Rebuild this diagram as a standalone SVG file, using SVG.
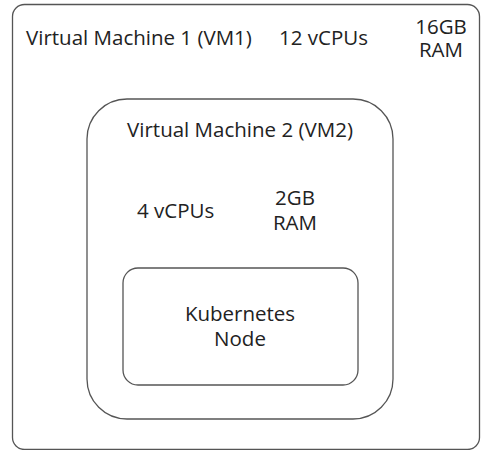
<svg xmlns="http://www.w3.org/2000/svg" width="481" height="450" viewBox="0 0 481 450">
<style>
.box{fill:#fff;stroke:#555;stroke-width:1.3}
text{font-family:"Open Sans","Noto Sans",sans-serif;font-size:20.5px;fill:#222}
.m{text-anchor:middle}
</style>
<rect width="481" height="450" fill="#fff"/>
<g id="vm1">
<rect class="box" x="12.5" y="4.5" width="467" height="445" rx="12"/>
<text x="26" y="45">Virtual Machine 1 (VM1)</text>
<text x="279" y="45">12 vCPUs</text>
<text class="m" x="441" y="34">16GB</text>
<text class="m" x="441" y="57">RAM</text>
</g>
<g id="vm2">
<rect class="box" x="87" y="99" width="306" height="320" rx="40"/>
<text class="m" x="240" y="137">Virtual Machine 2 (VM2)</text>
<text x="137" y="218">4 vCPUs</text>
<text class="m" x="295" y="205">2GB</text>
<text class="m" x="295" y="230">RAM</text>
</g>
<g id="k8s">
<rect class="box" x="123" y="268" width="235" height="117" rx="15"/>
<text class="m" x="240" y="321">Kubernetes</text>
<text class="m" x="240" y="346">Node</text>
</g>
<g id="connectors"/>
</svg>
